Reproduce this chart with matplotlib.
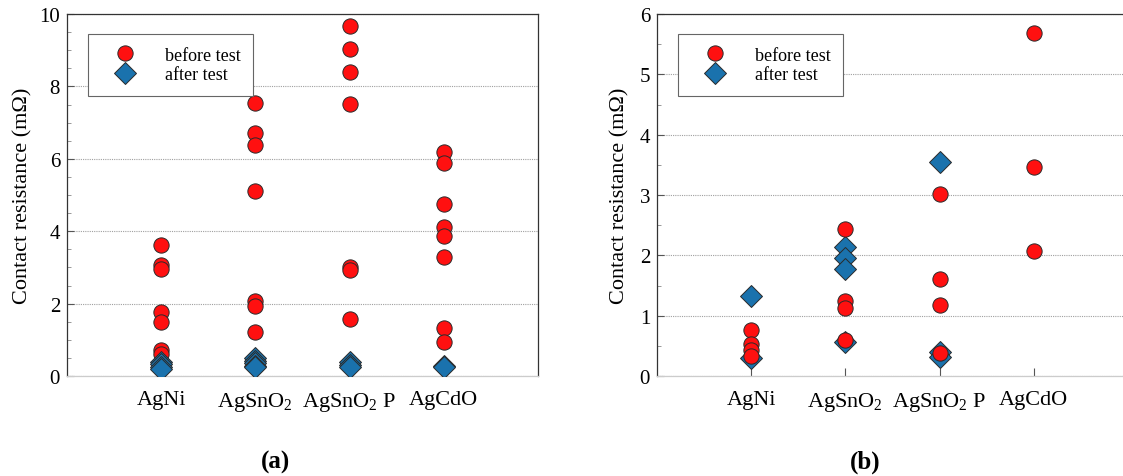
import matplotlib
import matplotlib.pyplot as plt

matplotlib.use('Agg')
plt.rcParams['font.family'] = ['Liberation Serif', 'DejaVu Serif']
plt.rcParams['mathtext.fontset'] = 'custom'
plt.rcParams['mathtext.rm'] = 'Liberation Serif'
plt.rcParams['mathtext.it'] = 'Liberation Serif:italic'

categories = ['AgNi', r'AgSnO$_2$', r'AgSnO$_2$ P', 'AgCdO']

# panel (a): values per category, in mOhm
a_before = [
    [3.63, 3.06, 2.95, 1.76, 1.50, 0.72, 0.60],
    [7.53, 6.72, 6.37, 5.12, 2.07, 1.92, 1.22],
    [9.66, 9.02, 8.40, 7.51, 3.02, 2.93, 1.57],
    [6.19, 5.89, 4.76, 4.12, 3.87, 3.28, 1.32, 0.95],
]
a_after = [
    [0.40, 0.33, 0.26, 0.20],
    [0.50, 0.42, 0.35, 0.28, 0.24],
    [0.40, 0.30, 0.25],
    [0.28, 0.24],
]

# panel (b)
b_before = [
    [0.77, 0.53, 0.43, 0.33],
    [2.44, 1.24, 1.13, 0.60],
    [3.01, 1.61, 1.17, 0.38],
    [5.68, 3.47, 2.07],
]
b_after = [
    [1.32, 0.30],
    [2.14, 1.96, 1.78, 0.57],
    [3.55, 0.40, 0.32],
    [],
]

RED = '#ff1010'
BLUE = '#1a72ad'
EDGE = '#2a2a2a'


def draw(ax, before, after, ymax, major, circles_on_top, label_x):
    z_red, z_blue = (4, 3) if circles_on_top else (3, 4)
    for i, (b, a) in enumerate(zip(before, after)):
        ax.plot([i + 1] * len(b), b, 'o', color=RED, markeredgecolor=EDGE,
                markeredgewidth=0.7, markersize=11, zorder=z_red,
                label='before test' if i == 0 else None)
        ax.plot([i + 1] * len(a), a, 'D', color=BLUE, markeredgecolor=EDGE,
                markeredgewidth=0.7, markersize=11, zorder=z_blue,
                label='after test' if i == 0 else None)

    ax.set_xlim(0, 5)
    ax.set_ylim(0, ymax)
    ax.set_xticks(range(1, 5))
    ax.set_xticklabels(categories, fontsize=16)
    ax.set_yticks([v * major for v in range(int(ymax / major) + 1)])
    ax.set_yticks([v * 0.5 for v in range(int(ymax / 0.5) + 1)], minor=True)
    ax.tick_params(axis='y', labelsize=15, direction='in', length=5,
                   width=0.8, color='#555555', pad=5)
    ax.tick_params(axis='y', which='minor', direction='in', length=3,
                   width=0.6, color='#888888')
    ax.tick_params(axis='x', direction='in', length=6, width=0.8,
                   color='#555555', pad=10)
    ax.yaxis.grid(True, linestyle=(0, (1, 1)), color='#a0a0a0', linewidth=0.8)
    ax.set_axisbelow(True)

    for side in ('left', 'top', 'right'):
        ax.spines[side].set_color('#333333')
        ax.spines[side].set_linewidth(0.9)
    ax.spines['bottom'].set_color('#cccccc')
    ax.spines['bottom'].set_linewidth(0.9)

    ax.set_ylabel('Contact resistance (mΩ)', fontsize=16)
    ax.yaxis.set_label_coords(label_x, 0.5)

    leg = ax.legend(loc='upper left', bbox_to_anchor=(0.045, 0.945),
                    borderaxespad=0, fontsize=13, fancybox=False,
                    edgecolor='#666666', framealpha=1, borderpad=0.7,
                    handlelength=2.7, handletextpad=0.85, labelspacing=0.15)
    leg.get_frame().set_linewidth(0.8)
    leg.set_zorder(10)


fig = plt.figure(figsize=(11.23, 4.77), dpi=100)
ax_a = fig.add_axes([67 / 1123, 100 / 477, 471 / 1123, 362 / 477])
ax_b = fig.add_axes([657 / 1123, 100 / 477, 471 / 1123, 362 / 477])

draw(ax_a, a_before, a_after, 10, 2, False, -0.074)
draw(ax_b, b_before, b_after, 6, 1, True, -0.058)

fig.text(275 / 1123, 1 - 462 / 477, '(a)', fontsize=18, fontweight='bold',
         ha='center', va='center')
fig.text(865 / 1123, 1 - 462 / 477, '(b)', fontsize=18, fontweight='bold',
         ha='center', va='center')

fig.savefig('out.png', dpi=100)
